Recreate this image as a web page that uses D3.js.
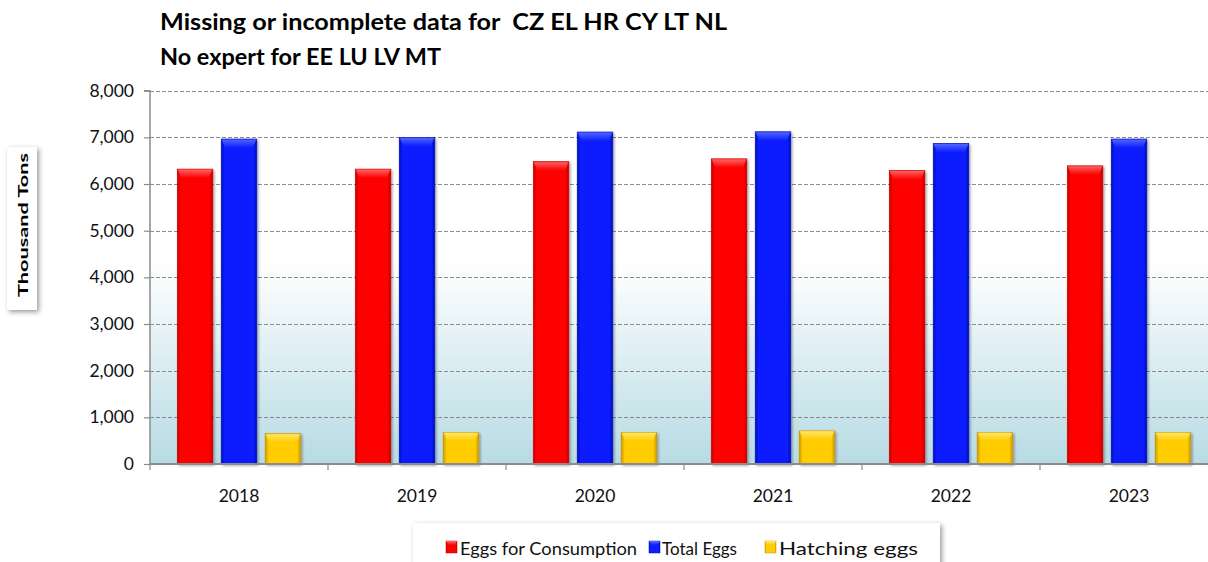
<!DOCTYPE html>
<html><head><meta charset="utf-8">
<script src="https://cdn.jsdelivr.net/npm/d3@7"></script>
<style>
html,body{margin:0;padding:0;background:#fff;}
svg{display:block;font-family:Lato,"Open Sans",sans-serif;}
</style></head>
<body><div id="chart"></div>
<script>
const years = ["2018","2019","2020","2021","2022","2023"];
const seriesNames = ["Eggs for Consumption","Total Eggs","Hatching eggs"];
const eggsConsumption = [6320, 6320, 6480, 6540, 6290, 6390];
const totalEggs = [6965, 7000, 7115, 7120, 6870, 6965];
const hatchingEggs = [650, 680, 680, 710, 680, 680];
const yTicks = [0,1000,2000,3000,4000,5000,6000,7000,8000];
const titleLines = ["Missing or incomplete data for  CZ EL HR CY LT NL","No expert for EE LU LV MT"];
const yAxisTitle = "Thousand Tons";

const W = 1208, H = 562;
const seriesValues = [eggsConsumption, totalEggs, hatchingEggs];
const colors = [
  {base:"#ff0000", edge:"#c40000", hi:"#ff6a6a"},
  {base:"#0a1eff", edge:"#0010b8", hi:"#5a6cff"},
  {base:"#ffcc00", edge:"#cc9600", hi:"#ffe870"}
];

const svg = d3.select("#chart").append("svg").attr("width", W).attr("height", H);
const defs = svg.append("defs");

const bg = defs.append("linearGradient").attr("id","bgGrad").attr("x1",0).attr("x2",0).attr("y1",0).attr("y2",1);
bg.append("stop").attr("offset","0%").attr("stop-color","#ffffff");
bg.append("stop").attr("offset","46%").attr("stop-color","#ffffff");
bg.append("stop").attr("offset","100%").attr("stop-color","#b7dbe4");

colors.forEach((c,i)=>{
  const g = defs.append("linearGradient").attr("id","barH"+i).attr("x1",0).attr("x2",1).attr("y1",0).attr("y2",0);
  g.append("stop").attr("offset","0%").attr("stop-color",c.edge);
  g.append("stop").attr("offset","10%").attr("stop-color",c.base);
  g.append("stop").attr("offset","90%").attr("stop-color",c.base);
  g.append("stop").attr("offset","100%").attr("stop-color",c.edge);
  const t = defs.append("linearGradient").attr("id","barT"+i).attr("x1",0).attr("x2",0).attr("y1",0).attr("y2",1);
  t.append("stop").attr("offset","0%").attr("stop-color",c.hi);
  t.append("stop").attr("offset","100%").attr("stop-color",c.base);
});

const sh = defs.append("filter").attr("id","shadow").attr("x","-20%").attr("y","-20%").attr("width","150%").attr("height","150%");
sh.append("feDropShadow").attr("dx",1.5).attr("dy",1.5).attr("stdDeviation",1.2).attr("flood-color","#000").attr("flood-opacity",0.35);
const sh2 = defs.append("filter").attr("id","boxShadow").attr("x","-20%").attr("y","-20%").attr("width","150%").attr("height","150%");
sh2.append("feDropShadow").attr("dx",2).attr("dy",2).attr("stdDeviation",2.5).attr("flood-color","#000").attr("flood-opacity",0.4);

const plotLeft = 150, plotRight = 1218, plotTop = 90.7, plotBottom = 464;
const y = d3.scaleLinear().domain([0,8000]).range([plotBottom, plotTop]);
const x0 = d3.scaleBand().domain(years).range([plotLeft, plotRight]).padding(0);
const x1 = d3.scaleBand().domain(seriesNames).range([0, x0.bandwidth()]).paddingInner(0.19).paddingOuter(0.62);

svg.append("rect").attr("x",plotLeft).attr("y",y(8000)).attr("width",plotRight-plotLeft).attr("height",y(0)-y(8000)).attr("fill","url(#bgGrad)");

svg.append("g").selectAll("line").data(yTicks.filter(d=>d>0)).join("line")
  .attr("x1",plotLeft).attr("x2",W).attr("y1",d=>Math.round(y(d))+0.5).attr("y2",d=>Math.round(y(d))+0.5)
  .attr("stroke","#8c8c8c").attr("stroke-width",1.2).attr("stroke-dasharray","4,2");

const yAxis = d3.axisLeft(y).tickValues(yTicks).tickSize(6).tickPadding(10).tickFormat(d3.format(","));
const gy = svg.append("g").attr("transform",`translate(${plotLeft},0)`).call(yAxis);
gy.select(".domain").attr("stroke","#8c8c8c").attr("stroke-width",1.5).attr("d",`M-6,${y(8000)}H0V${y(0)}`);
gy.selectAll(".tick line").attr("stroke","#8c8c8c").attr("stroke-width",1.2);
gy.selectAll(".tick text").attr("font-size",17.5).attr("fill","#111").attr("font-family","Lato, sans-serif");

const groups = svg.append("g").selectAll("g").data(years).join("g")
  .attr("transform",d=>`translate(${x0(d)},0)`);
seriesNames.forEach((s,si)=>{
  groups.each(function(yr, yi){
    const g = d3.select(this);
    const v = seriesValues[si][yi];
    const bx = x1(s), bw = x1.bandwidth(), by = y(v), bh = y(0)-y(v);
    g.append("rect").attr("x",bx).attr("y",by).attr("width",bw).attr("height",bh)
      .attr("fill","url(#barH"+si+")").attr("stroke",colors[si].edge).attr("stroke-width",0.6).attr("filter","url(#shadow)");
    const bev = Math.min(9, bh/2);
    g.append("path").attr("d",`M${bx+0.5},${by+0.5}H${bx+bw-0.5}L${bx+bw-4},${by+bev}H${bx+4}Z`)
      .attr("fill","url(#barT"+si+")").attr("opacity",0.9);
  });
});

const xAxis = d3.axisBottom(x0).tickSize(0).tickPadding(26);
const gx = svg.append("g").attr("transform",`translate(0,${plotBottom})`).call(xAxis);
gx.select(".domain").attr("stroke","#8c8c8c").attr("stroke-width",1.8).attr("d",`M${plotLeft},0H${plotRight}`);
gx.selectAll(".tick text").attr("font-size",17.5).attr("fill","#111").attr("font-family","Lato, sans-serif");
svg.append("g").selectAll("line").data(years.concat(["end"])).join("line")
  .attr("x1",(d,i)=>plotLeft + i*x0.step()).attr("x2",(d,i)=>plotLeft + i*x0.step())
  .attr("y1",plotBottom).attr("y2",plotBottom+6).attr("stroke","#8c8c8c").attr("stroke-width",1.2);

const titleTargets = [[160, 30, 567],[160, 65, 281]];
titleLines.forEach((t,i)=>{
  svg.append("text").attr("x",titleTargets[i][0]).attr("y",titleTargets[i][1])
    .attr("font-size",23).attr("font-weight","bold").attr("fill","#000")
    .attr("xml:space","preserve").style("white-space","pre")
    .attr("textLength",titleTargets[i][2]).attr("lengthAdjust","spacingAndGlyphs").text(t);
});

svg.append("rect").attr("x",7).attr("y",147).attr("width",30).attr("height",163).attr("fill","#fff").attr("filter","url(#boxShadow)");
svg.append("text").attr("transform","translate(28,225) rotate(-90)").attr("text-anchor","middle")
  .attr("font-size",14).attr("font-weight","bold").attr("fill","#000")
  .attr("textLength",144).attr("lengthAdjust","spacingAndGlyphs").text(yAxisTitle);

svg.append("rect").attr("x",413).attr("y",523).attr("width",527).attr("height",50).attr("fill","#fff").attr("filter","url(#boxShadow)");
const legendPos = [[446, 460, 177],[649, 662, 75],[765, 779, 139]];
seriesNames.forEach((s,i)=>{
  svg.append("rect").attr("x",legendPos[i][0]).attr("y",541).attr("width",11).attr("height",12)
    .attr("fill","url(#barH"+i+")").attr("stroke",colors[i].edge).attr("stroke-width",0.5);
  svg.append("path").attr("d",`M${legendPos[i][0]},541h11l-2.5,4h-6z`).attr("fill","url(#barT"+i+")");
  svg.append("text").attr("x",legendPos[i][1]).attr("y",555).attr("font-size",18).attr("fill","#111")
    .attr("textLength",legendPos[i][2]).attr("lengthAdjust","spacingAndGlyphs").text(s);
});
</script></body></html>
